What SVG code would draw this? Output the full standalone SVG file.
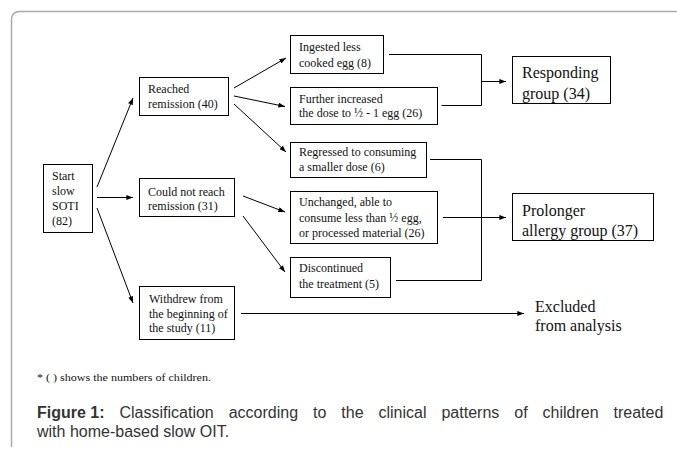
<svg xmlns="http://www.w3.org/2000/svg" width="677" height="450" viewBox="0 0 677 450">
<defs>
<marker id="ah" viewBox="0 0 8 6" refX="8" refY="3" markerWidth="7" markerHeight="5" markerUnits="userSpaceOnUse" orient="auto">
<path d="M0,0 L8,3 L0,6 Z" fill="#000"/>
</marker>
<style>
.box{fill:#fff;stroke:#000;stroke-width:1}
.t{font-family:"Liberation Serif","Times New Roman",serif;font-size:12px;fill:#111}
.tl{font-family:"Liberation Serif","Times New Roman",serif;font-size:16px;fill:#111}
.c{fill:none;stroke:#000;stroke-width:1}
.a{fill:none;stroke:#000;stroke-width:1;marker-end:url(#ah)}
.cap{font-family:"Liberation Sans",Arial,sans-serif;font-size:16px;fill:#333}
</style>
</defs>
<rect width="677" height="450" fill="#fff"/>
<path d="M11.5,447 L11.5,20 Q11.5,11.5 20,11.5 L677,11.5" fill="none" stroke="#aaa" stroke-width="1.5"/>

<g id="connectors">
<line class="a" x1="97" y1="187" x2="133" y2="98"/>
<line class="a" x1="97" y1="197.5" x2="133" y2="197.5"/>
<line class="a" x1="97" y1="208" x2="133" y2="303"/>
<line class="a" x1="234" y1="88" x2="286" y2="58"/>
<line class="a" x1="234" y1="96" x2="285" y2="106.5"/>
<line class="a" x1="234" y1="104" x2="286" y2="152"/>
<line class="a" x1="243" y1="196" x2="285" y2="212"/>
<line class="a" x1="243" y1="216" x2="285" y2="272"/>
<polyline class="c" points="389,54.5 481.5,54.5 481.5,105.5 441.5,105.5"/>
<line class="a" x1="481.5" y1="81.5" x2="506" y2="81.5"/>
<polyline class="c" points="430,159.5 481.5,159.5 481.5,280.5 396,280.5"/>
<line class="a" x1="443" y1="217.5" x2="506" y2="217.5"/>
<line class="a" x1="241" y1="313.5" x2="524" y2="313.5"/>
</g>

<g id="start">
<rect class="box" x="43.5" y="164.5" width="49" height="68"/>
<text class="t" x="52" y="180">Start</text>
<text class="t" x="52" y="195">slow</text>
<text class="t" x="52" y="210">SOTI</text>
<text class="t" x="52" y="225">(82)</text>
</g>
<g id="reached">
<rect class="box" x="139.5" y="77.5" width="89" height="38"/>
<text class="t" x="148" y="93">Reached</text>
<text class="t" x="148" y="108">remission (40)</text>
</g>
<g id="couldnot">
<rect class="box" x="139.5" y="178.5" width="95" height="38"/>
<text class="t" x="148" y="196">Could not reach</text>
<text class="t" x="148" y="210">remission (31)</text>
</g>
<g id="withdrew">
<rect class="box" x="139.5" y="286.5" width="95" height="53"/>
<text class="t" x="149" y="303">Withdrew from</text>
<text class="t" x="149" y="318">the beginning of</text>
<text class="t" x="149" y="332">the study (11)</text>
</g>
<g id="ingested">
<rect class="box" x="290.5" y="35.5" width="93" height="38"/>
<text class="t" x="299" y="51">Ingested less</text>
<text class="t" x="299" y="67">cooked egg (8)</text>
</g>
<g id="further">
<rect class="box" x="290.5" y="87.5" width="147" height="37"/>
<text class="t" x="299" y="102.5">Further increased</text>
<text class="t" x="299" y="117">the dose to ½ - 1 egg (26)</text>
</g>
<g id="regressed">
<rect class="box" x="290.5" y="142.5" width="136" height="35"/>
<text class="t" x="299" y="156">Regressed to consuming</text>
<text class="t" x="299" y="171">a smaller dose (6)</text>
</g>
<g id="unchanged">
<rect class="box" x="290.5" y="191.5" width="147" height="52"/>
<text class="t" x="299" y="206">Unchanged, able to</text>
<text class="t" x="299" y="221.5">consume less than ½ egg,</text>
<text class="t" x="299" y="237">or processed material (26)</text>
</g>
<g id="discontinued">
<rect class="box" x="290.5" y="257.5" width="100" height="40"/>
<text class="t" x="299" y="272">Discontinued</text>
<text class="t" x="299" y="288">the treatment (5)</text>
</g>
<g id="responding">
<rect class="box" x="512.5" y="56.5" width="98" height="47"/>
<text class="tl" x="522" y="78">Responding</text>
<text class="tl" x="522" y="99">group (34)</text>
</g>
<g id="prolonger">
<rect class="box" x="512.5" y="193.5" width="141" height="47"/>
<text class="tl" x="522" y="215.5">Prolonger</text>
<text class="tl" x="522" y="235.5">allergy group (37)</text>
</g>
<g id="excluded">
<text class="tl" x="535" y="311.5">Excluded</text>
<text class="tl" x="535" y="330.5">from analysis</text>
</g>

<text x="37" y="381" font-family="Liberation Serif, Times New Roman, serif" font-size="10" fill="#111" textLength="174" lengthAdjust="spacingAndGlyphs">* ( ) shows the numbers of children.</text>
<text class="cap" x="37" y="418" word-spacing="10.5"><tspan font-weight="bold" word-spacing="0">Figure 1:</tspan> Classification according to the clinical patterns of children treated</text>
<text class="cap" x="37" y="437">with home-based slow OIT.</text>
</svg>
